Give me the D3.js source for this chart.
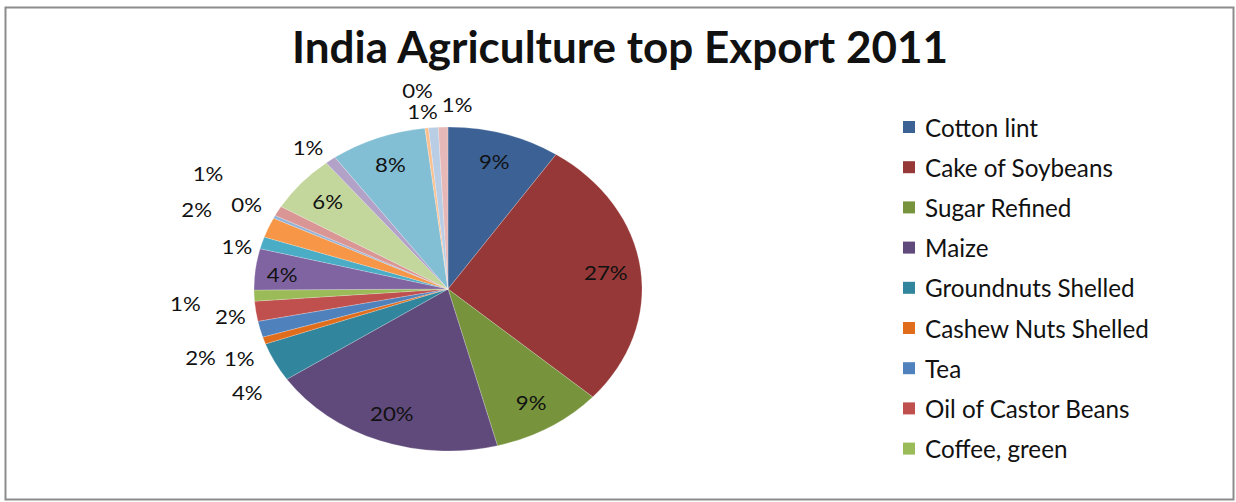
<!DOCTYPE html>
<html>
<head>
<meta charset="utf-8">
<script src="https://cdn.jsdelivr.net/npm/d3@7/dist/d3.min.js"></script>
<style>
  html, body { margin: 0; padding: 0; background: #fff; }
  svg { display: block; }
  text { font-family: Lato, "Open Sans", "DejaVu Sans", sans-serif; fill: #111; }
</style>
</head>
<body>
<svg id="chart" width="1236" height="502"></svg>
<script>
// Export shares (%) by commodity, clockwise from 12 o'clock
const categories = [
  "Cotton lint", "Cake of Soybeans", "Sugar Refined", "Maize",
  "Groundnuts Shelled", "Cashew Nuts Shelled", "Tea", "Oil of Castor Beans",
  "Coffee, green", "Rice, Milled", "Pepper, White/Black", "Chillies and Peppers, Dry",
  "Tobacco, Unmanufactured", "Spices nes", "Wheat", "Sesame Seed",
  "Sugar Raw Centrifugal", "Onions, Dry", "Cotton Waste", "Bovine Meat"
];
const shares = [
  9.4, 27.2, 9.3, 19.7,
  3.9, 0.7, 1.6, 2.0,
  1.1, 4.1, 1.2, 2.0,
  0.3, 1.0, 5.7, 0.9,
  8.0, 0.3, 0.8, 0.8
];
const colors = [
  "#3b6195", "#953837", "#77933c", "#604a7b",
  "#31859c", "#e06d1c", "#4f81bd", "#c0504d",
  "#9bbb59", "#8064a2", "#4bacc6", "#f79646",
  "#95b3d7", "#d99694", "#c3d69b", "#b3a2c7",
  "#82bed4", "#fac090", "#b9cde5", "#e6b9b8"
];
const legendCount = 9;
const title = "India Agriculture top Export 2011";

// ---- layout ----
const svg = d3.select("#chart");
const cx = 448, cy = 289, rx = 194, ry = 162;

// chart frame
svg.append("rect")
  .attr("x", 5.5).attr("y", 7.5)
  .attr("width", 1228).attr("height", 492)
  .attr("fill", "#fff")
  .attr("stroke", "#8c8c8c").attr("stroke-width", 2);

// title, fitted to its width
const titleEl = svg.append("text")
  .attr("x", 620).attr("y", 63)
  .attr("text-anchor", "middle")
  .style("font-weight", "bold")
  .style("font-size", "40px")
  .text(title);
const tw = titleEl.node().getComputedTextLength();
titleEl.style("font-size", (40 * 656 / tw).toFixed(2) + "px");

// pie (drawn circular, then stretched horizontally)
const data = categories.map((c, i) => ({ name: c, value: shares[i], color: colors[i], i }));
const pie = d3.pie().value(d => d.value).sort(null);
const arcs = pie(data);
const arc = d3.arc().innerRadius(0).outerRadius(ry);

const pieG = svg.append("g")
  .attr("transform", `translate(${cx},${cy}) scale(${rx / ry},1)`);
pieG.selectAll("path")
  .data(arcs)
  .join("path")
  .attr("d", arc)
  .attr("fill", d => d.data.color)
  .attr("stroke", "#ffffff")
  .attr("stroke-opacity", 0.35)
  .attr("stroke-width", 0.6)
  .attr("vector-effect", "non-scaling-stroke");

// data labels: inside for large slices, outside otherwise, with small nudges to avoid overlap
const labelNudge = {
  9: [-8, 2],
  4: [7, 16], 5: [12, 8], 6: [-22, 20], 7: [13, 1], 8: [-30, 7],
  10: [12, 13], 11: [-36, -5], 12: [7, 2], 13: [-36, -22],
  15: [1, 13], 17: [-5, -5], 18: [-8, 17], 19: [15, 10]
};
const total = d3.sum(shares);
function labelPos(d) {
  const a = (d.startAngle + d.endAngle) / 2;
  const k = d.data.value >= 4 ? 0.82 : 1.2;
  const n = labelNudge[d.data.i] || [0, 0];
  return [cx + k * rx * Math.sin(a) + n[0], cy - k * ry * Math.cos(a) + n[1]];
}
svg.append("g").selectAll("text")
  .data(arcs)
  .join("text")
  .attr("text-anchor", "middle")
  .attr("dominant-baseline", "central")
  .style("font-size", "18.5px")
  .attr("transform", d => {
    const [x, y] = labelPos(d);
    return `translate(${x},${y}) scale(1.2,1)`;
  })
  .text(d => Math.round(d.data.value / total * 100) + "%");

// legend (first entries only)
const legend = svg.append("g");
const rows = legend.selectAll("g")
  .data(data.slice(0, legendCount))
  .join("g")
  .attr("transform", (d, i) => `translate(903,${127 + i * 40.2})`);
rows.append("rect")
  .attr("x", 0).attr("y", -6)
  .attr("width", 12).attr("height", 12)
  .attr("fill", d => d.color);
const legendText = rows.append("text")
  .attr("x", 22).attr("y", 0)
  .attr("dominant-baseline", "central")
  .style("font-size", "19px")
  .text(d => d.name);
const longest = d3.max(legendText.nodes(), n => n.getComputedTextLength());
legendText.style("font-size", (19 * 224 / longest).toFixed(2) + "px");
</script>
</body>
</html>
